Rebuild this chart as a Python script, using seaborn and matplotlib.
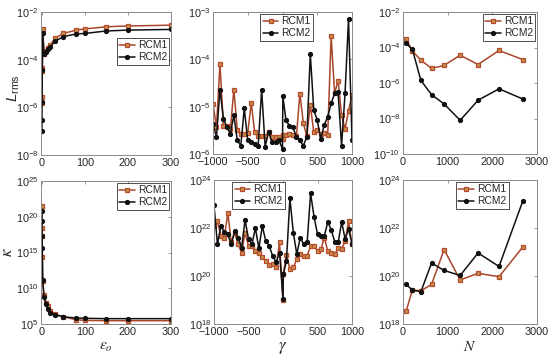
import numpy as np
import pandas as pd
import matplotlib
matplotlib.use("Agg")
import matplotlib.pyplot as plt
import seaborn as sns
from matplotlib.ticker import FixedLocator, LogFormatterSciNotation, NullLocator

sns.set_theme(style="white")
plt.rcParams['font.family'] = ['Liberation Sans', 'DejaVu Sans']
plt.rcParams['mathtext.fontset'] = 'custom'
plt.rcParams['mathtext.rm'] = 'Liberation Sans'
plt.rcParams['mathtext.it'] = 'Liberation Sans:italic'

# ---------------- data ----------------
eps = [0.1, 0.2, 0.5, 1, 2, 5, 10, 15, 20, 30, 50, 80, 100, 150, 200, 300]
lrms_eps_rcm1 = [1.5e-6, 2.8e-6, 3.5e-5, 4.5e-5, 2.0e-3, 1.66e-4, 2.4e-4, 3.2e-4, 4.2e-4,
                 7.9e-4, 1.26e-3, 1.74e-3, 1.95e-3, 2.4e-3, 2.6e-3, 2.8e-3]
lrms_eps_rcm2 = [1.0e-7, 2.95e-7, 1.74e-6, 3.7e-5, 1.35e-3, 1.66e-4, 2.2e-4, 2.8e-4, 3.5e-4,
                 5.8e-4, 9.3e-4, 1.2e-3, 1.26e-3, 1.6e-3, 1.74e-3, 1.86e-3]
kappa_eps_rcm1 = [3.2e21, 2.5e18, 2e17, 2e14, 1e11, 1e9, 1e8, 3.2e7, 7e6, 2.5e6, 1e6,
                  4e5, 3.2e5, 2.9e5, 2.9e5, 2.9e5]
kappa_eps_rcm2 = [6.3e20, 2.5e19, 2e17, 4e15, 1.26e11, 5.6e8, 6.3e7, 1.26e7, 4e6, 2e6, 1e6,
                  7e5, 6.3e5, 5.6e5, 5.6e5, 5.6e5]

gamma = [-1000, -950, -900, -850, -800, -750, -700, -650, -600, -550, -500, -450, -400,
         -350, -300, -250, -200, -150, -100, -50, 0, 5, 50, 100, 150, 200, 250, 300, 350,
         400, 450, 500, 550, 600, 650, 700, 750, 800, 850, 900, 950, 1000]
lrms_gam_rcm1 = [1.14e-5, 3.7e-6, 8.1e-5, 3.9e-6, 4.0e-6, 3.3e-6, 2.3e-5, 3.2e-6, 2.7e-6,
                 2.7e-6, 2.8e-6, 1.18e-5, 2.9e-6, 2.35e-6, 2.35e-6, 2.35e-6, 2.9e-6, 2.3e-6,
                 2.3e-6, 2.3e-6, 2.1e-6, 2.5e-6, 2.5e-6, 2.7e-6, 2.5e-6, 2.35e-6, 1.87e-5,
                 4.5e-6, 2.35e-6, 1.09e-5, 2.9e-6, 3.2e-6, 2.7e-6, 2.8e-6, 2.5e-6, 3.06e-4,
                 1.93e-5, 3.55e-5, 6.6e-6, 3.4e-6, 8.1e-6, 1.78e-5]
lrms_gam_rcm2 = [4.25e-6, 2.3e-6, 2.3e-5, 5.6e-6, 3.7e-6, 2.7e-6, 6.6e-6, 1.93e-6, 1.5e-6,
                 9.2e-6, 1.93e-6, 1.78e-6, 1.64e-6, 1.5e-6, 2.3e-5, 1.44e-6, 2.9e-6, 1.78e-6,
                 1.78e-6, 1.93e-6, 1.28e-6, 1.64e-5, 5.2e-6, 3.9e-6, 3.7e-6, 2.3e-6, 1.93e-6,
                 1.5e-6, 2.3e-6, 1.28e-4, 8.5e-6, 5.2e-6, 2.1e-6, 4.05e-6, 6.1e-6, 1.18e-5,
                 1.9e-5, 2.0e-5, 1.5e-6, 1.93e-5, 7.2e-4, 1.93e-6]
kappa_gam_rcm1 = [1.2e22, 1.9e22, 4.6e21, 4.0e21, 4.3e22, 2.5e21, 6.3e21, 2.1e21, 9.5e20,
                  6.3e21, 1.8e21, 1.8e21, 1.1e21, 9.5e20, 5.9e20, 4.3e20, 2.9e20, 3.3e20,
                  2.4e20, 2.5e21, 9.8e18, 1.2e20, 7.6e20, 1.95e20, 2.3e20, 5.0e20, 8.1e20,
                  6.9e20, 6.9e20, 1.8e21, 1.8e21, 1.1e21, 1.3e21, 4.0e21, 1.05e21, 9.0e20,
                  8.1e20, 1.5e21, 1.3e21, 2.9e21, 1.9e22, 2.1e21]
kappa_gam_rcm2 = [8.7e22, 2.1e21, 1.2e22, 6.9e21, 5.4e21, 2.1e21, 7.4e21, 4.0e21, 1.5e21,
                  2.2e22, 3.4e21, 2.1e21, 1.0e22, 1.4e21, 1.2e22, 2.9e21, 1.8e21, 6.9e20,
                  3.7e20, 9.5e20, 1.1e19, 1.2e20, 4.3e20, 1.7e23, 6.3e21, 8.1e20, 4.0e21,
                  2.1e21, 2.5e21, 2.8e23, 2.9e22, 5.6e21, 4.8e21, 4.8e21, 1.8e22, 8.1e21,
                  2.7e21, 2.5e21, 1.8e22, 3.5e21, 8.9e21, 2.2e21]

n_pts = [70, 210, 400, 640, 920, 1280, 1680, 2150, 2680]
lrms_n_rcm1 = [3.1e-4, 6.3e-5, 1.95e-5, 6.6e-6, 9.8e-6, 3.7e-5, 1.1e-5, 6.8e-5, 2.1e-5]
lrms_n_rcm2 = [1.7e-4, 7.8e-5, 1.4e-6, 2.2e-7, 6.6e-8, 7.9e-9, 1.07e-7, 4.7e-7, 1.26e-7]
kappa_n_rcm1 = [3.4e18, 2.6e19, 2.4e19, 4.5e19, 1.26e21, 6.8e19, 1.3e20, 9.3e19, 1.6e21]
kappa_n_rcm2 = [4.5e19, 2.6e19, 2.2e19, 3.5e20, 1.7e20, 1.05e20, 9.1e20, 2.5e20, 1.3e23]

series_names = ["RCM1", "RCM2"]

# ---------------- styles ----------------
c1_line = "#A9452A"
c1_face = "#C0904E"
c1_edge = "#BA4A2C"
c2 = "#111111"
spine_c = "#8a8a8a"
txt_c = "#262626"

fig = plt.figure(figsize=(5.5, 3.59), dpi=100)
W, H = 550, 359

def add_ax(l, r, t, b):
    return fig.add_axes([l / W, 1 - b / H, (r - l) / W, (b - t) / H])

axs = [
    add_ax(41, 171, 12, 155), add_ax(213, 352, 12, 154), add_ax(403, 537, 12, 154),
    add_ax(41, 171, 181, 324), add_ax(214, 352, 180, 324), add_ax(403, 537, 180, 324),
]

def draw(ax, x, y1, y2):
    sns.lineplot(x=x, y=y1, ax=ax, color=c1_line, lw=1.1, marker="s", markersize=3.4,
                 markerfacecolor=c1_face, markeredgecolor=c1_edge, markeredgewidth=0.9,
                 estimator=None, sort=False, label=series_names[0])
    sns.lineplot(x=x, y=y2, ax=ax, color=c2, lw=1.1, marker="o", markersize=3.0,
                 markerfacecolor=c2, markeredgecolor=c2,
                 estimator=None, sort=False, label=series_names[1])

def style(ax, xlim, xticks, ylim, yticks):
    ax.set_yscale("log")
    ax.set_xlim(*xlim)
    ax.set_ylim(*ylim)
    ax.xaxis.set_major_locator(FixedLocator(xticks))
    ax.yaxis.set_major_locator(FixedLocator(yticks))
    ax.yaxis.set_major_formatter(LogFormatterSciNotation())
    ax.yaxis.set_minor_locator(NullLocator())
    ax.xaxis.set_minor_locator(NullLocator())
    for s in ax.spines.values():
        s.set_color(spine_c)
        s.set_linewidth(0.7)
    ax.tick_params(axis="both", which="major", direction="in", length=2.5, width=0.6,
                   color=spine_c, labelsize=7.8, labelcolor=txt_c, top=True, right=True,
                   pad=2)
    ax.set_xlabel("")
    ax.set_ylabel("")

def legend(ax, loc, anchor):
    leg = ax.legend(loc=loc, bbox_to_anchor=anchor, fontsize=7.4, frameon=True,
                    fancybox=False, handlelength=1.5, handletextpad=0.3,
                    borderpad=0.25, labelspacing=0.2, borderaxespad=0.15)
    leg.get_frame().set_edgecolor("#222222")
    leg.get_frame().set_linewidth(0.7)
    for t in leg.get_texts():
        t.set_color(txt_c)

draw(axs[0], eps, lrms_eps_rcm1, lrms_eps_rcm2)
style(axs[0], (-2, 300), [0, 100, 200, 300], (1e-8, 1e-2), [1e-8, 1e-6, 1e-4, 1e-2])
legend(axs[0], "upper right", (1.0, 0.83))
axs[0].set_ylabel(r"$L_{\rm rms}$", fontsize=11, color=txt_c)
axs[0].yaxis.set_label_coords(-0.15, 0.47)

draw(axs[1], gamma, lrms_gam_rcm1, lrms_gam_rcm2)
style(axs[1], (-1000, 1000), [-1000, -500, 0, 500, 1000], (1e-6, 1e-3),
      [1e-6, 1e-5, 1e-4, 1e-3])
legend(axs[1], "upper center", (0.53, 1.0))

draw(axs[2], n_pts, lrms_n_rcm1, lrms_n_rcm2)
style(axs[2], (0, 3000), [0, 1000, 2000, 3000], (1e-10, 1e-2),
      [1e-10, 1e-8, 1e-6, 1e-4, 1e-2])
legend(axs[2], "upper right", (1.0, 1.0))

draw(axs[3], eps, kappa_eps_rcm1, kappa_eps_rcm2)
style(axs[3], (-2, 300), [0, 100, 200, 300], (1e5, 1e25),
      [1e5, 1e10, 1e15, 1e20, 1e25])
legend(axs[3], "upper right", (1.0, 1.0))
axs[3].set_ylabel(r"$\kappa$", fontsize=12, color=txt_c, math_fontfamily="stix")
axs[3].yaxis.set_label_coords(-0.2, 0.5)
axs[3].set_xlabel(r"$\epsilon_o$", fontsize=11, color=txt_c, labelpad=2,
                  math_fontfamily="stix")

draw(axs[4], gamma, kappa_gam_rcm1, kappa_gam_rcm2)
style(axs[4], (-1000, 1000), [-1000, -500, 0, 500, 1000], (1e18, 1e24),
      [1e18, 1e20, 1e22, 1e24])
legend(axs[4], "upper left", (0.12, 1.0))
axs[4].set_xlabel(r"$\gamma$", fontsize=12, color=txt_c, labelpad=2, math_fontfamily="stix")

draw(axs[5], n_pts, kappa_n_rcm1, kappa_n_rcm2)
style(axs[5], (0, 3000), [0, 1000, 2000, 3000], (1e18, 1e24),
      [1e18, 1e20, 1e22, 1e24])
legend(axs[5], "upper right", (0.8, 1.0))
axs[5].set_xlabel(r"$N$", fontsize=11, color=txt_c, labelpad=2, math_fontfamily="stix")

fig.savefig("out.png", dpi=100)
